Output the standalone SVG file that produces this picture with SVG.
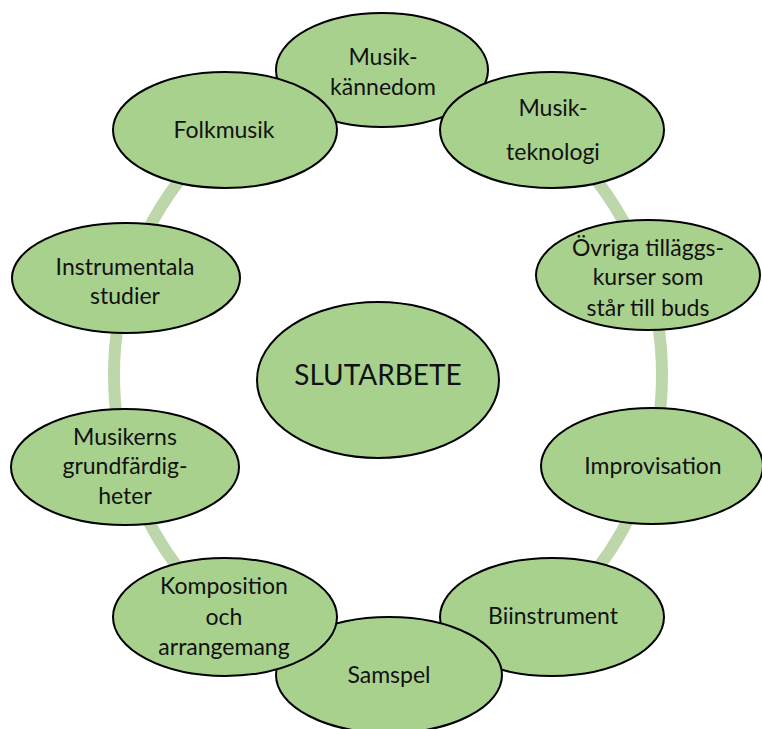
<svg xmlns="http://www.w3.org/2000/svg" width="762" height="729" viewBox="0 0 762 729">
<style>
.n ellipse{fill:#a9d18e;stroke:#000;stroke-width:2}
.n text{font-family:Lato,"Open Sans","DejaVu Sans",sans-serif;font-size:23px;fill:#111;text-anchor:middle}
.ring{fill:none;stroke:#bdd7ab;stroke-width:12}
</style>
<rect width="762" height="729" fill="#fff"/>
<g id="connectors">
<ellipse class="ring" cx="388" cy="375" rx="274" ry="300"/>
</g>
<g id="n1" class="n"><ellipse cx="382" cy="70" rx="106" ry="57"/><text x="383" y="65">Musik-</text><text x="383" y="95">kännedom</text></g>
<g id="n2" class="n"><ellipse cx="552" cy="130" rx="112" ry="58"/><text x="553" y="116">Musik-</text><text x="553" y="160">teknologi</text></g>
<g id="n3" class="n"><ellipse cx="648" cy="275" rx="112" ry="55"/><text x="648" y="256">Övriga tilläggs-</text><text x="648" y="285">kurser som</text><text x="648" y="316">står till buds</text></g>
<g id="n4" class="n"><ellipse cx="652" cy="466" rx="111" ry="58"/><text x="653" y="474">Improvisation</text></g>
<g id="n5" class="n"><ellipse cx="552" cy="617" rx="112" ry="59"/><text x="553" y="624">Biinstrument</text></g>
<g id="n6" class="n"><ellipse cx="389" cy="675" rx="113" ry="58"/><text x="389" y="683">Samspel</text></g>
<g id="n7" class="n"><ellipse cx="225" cy="617" rx="112" ry="59"/><text x="224" y="594">Komposition</text><text x="224" y="625">och</text><text x="224" y="655">arrangemang</text></g>
<g id="n8" class="n"><ellipse cx="125" cy="467" rx="114" ry="58"/><text x="125" y="445">Musikerns</text><text x="125" y="474">grundfärdig-</text><text x="125" y="504">heter</text></g>
<g id="n9" class="n"><ellipse cx="126" cy="278" rx="114" ry="55"/><text x="125" y="275">Instrumentala</text><text x="125" y="304">studier</text></g>
<g id="n10" class="n"><ellipse cx="225" cy="130" rx="112" ry="58"/><text x="224" y="138">Folkmusik</text></g>
<g id="n0" class="n"><ellipse cx="378" cy="380" rx="121" ry="78"/><text x="378" y="385" style="font-size:28px">SLUTARBETE</text></g>
</svg>
